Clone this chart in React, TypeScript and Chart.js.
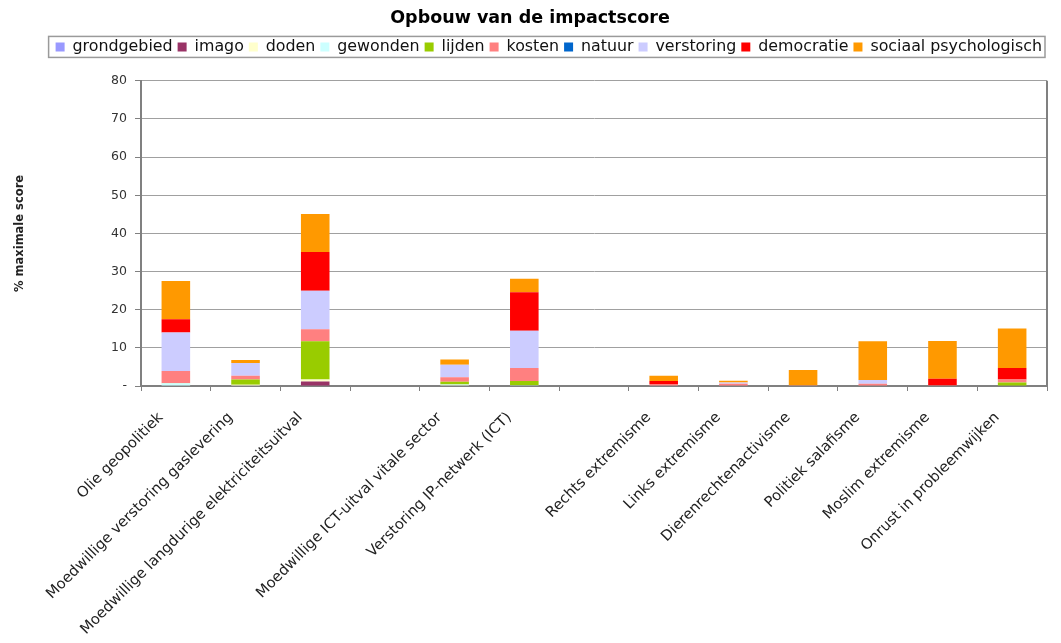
import React, { useEffect, useRef } from 'react';
import { Chart, registerables } from 'chart.js';

Chart.register(...registerables);

const categories = [
  'Olie geopolitiek',
  'Moedwillige verstoring gaslevering',
  'Moedwillige langdurige elektriciteitsuitval',
  '',
  'Moedwillige ICT-uitval vitale sector',
  'Verstoring IP-netwerk (ICT)',
  '',
  'Rechts extremisme',
  'Links extremisme',
  'Dierenrechtenactivisme',
  'Politiek salafisme',
  'Moslim extremisme',
  'Onrust in probleemwijken',
];

const grondgebied = [0, 0, 0, 0, 0, 0, 0, 0, 0, 0, 0, 0, 0];
const imago = [0, 0, 1.2, 0, 0, 0, 0, 0, 0, 0, 0, 0, 0];
const doden = [0, 0.3, 0.5, 0, 0.2, 0, 0, 0, 0, 0, 0, 0, 0];
const gewonden = [0.7, 0, 0, 0, 0.2, 0.2, 0, 0, 0, 0, 0, 0, 0];
const lijden = [0.1, 1.4, 10.0, 0, 0.7, 1.1, 0, 0, 0, 0, 0, 0, 0.9];
const kosten = [3.1, 1.0, 3.2, 0, 1.2, 3.4, 0, 0.5, 0.6, 0.2, 0.6, 0.2, 0.8];
const natuur = [0, 0, 0, 0, 0, 0, 0, 0, 0, 0, 0, 0, 0];
const verstoring = [10.1, 3.35, 10.1, 0, 3.3, 9.8, 0, 0, 0.3, 0, 1.0, 0, 0];
const democratie = [3.5, 0, 10.1, 0, 0, 10.1, 0, 0.8, 0, 0, 0, 1.7, 3.0];
const sociaalPsychologisch = [10.0, 0.75, 10.0, 0, 1.35, 3.5, 0, 1.4, 0.5, 4.0, 10.1, 9.9, 10.4];

const seriesNames = [
  'grondgebied', 'imago', 'doden', 'gewonden', 'lijden',
  'kosten', 'natuur', 'verstoring', 'democratie', 'sociaal psychologisch',
];
const seriesValues = [
  grondgebied, imago, doden, gewonden, lijden,
  kosten, natuur, verstoring, democratie, sociaalPsychologisch,
];
const seriesColors = [
  '#9999FF', '#993366', '#FFFFCC', '#CCFFFF', '#99CC00',
  '#FF8080', '#0066CC', '#CCCCFF', '#FF0000', '#FF9900',
];

const yMin = 0;
const yMax = 80;
const yStep = 10;

const FONT = '"DejaVu Sans", sans-serif';

const framePlugin = {
  id: 'frame',
  beforeLayout(chart: any) {
    const lg = chart.legend;
    if (lg && !lg.__patched) {
      const orig = lg.fit;
      lg.fit = function () {
        orig.call(this);
        this.height += 16;
      };
      lg.__patched = true;
    }
  },
  afterDraw(chart: any) {
    const { ctx, chartArea } = chart;
    ctx.save();
    ctx.strokeStyle = '#808080';
    ctx.lineWidth = 2;
    ctx.beginPath();
    ctx.moveTo(chartArea.right, chartArea.top);
    ctx.lineTo(chartArea.right, chartArea.bottom + 1);
    ctx.stroke();
    const boxes = chart.legend && chart.legend.legendHitBoxes;
    if (boxes && boxes.length) {
      const first = boxes[0];
      const last = boxes[boxes.length - 1];
      const l = first.left - 7;
      const r = last.left + last.width + 3;
      const cy = first.top + first.height / 2;
      ctx.strokeStyle = '#9a9a9a';
      ctx.lineWidth = 1.5;
      ctx.strokeRect(l, cy - 10.5, r - l, 21);
    }
    ctx.restore();
  },
};

export default function App() {
  const canvasRef = useRef<HTMLCanvasElement | null>(null);

  useEffect(() => {
    const canvas = canvasRef.current;
    if (!canvas) return;
    const chart = new Chart(canvas, {
      type: 'bar',
      data: {
        labels: categories,
        datasets: seriesNames.map((name, i) => ({
          label: name,
          data: seriesValues[i],
          backgroundColor: seriesColors[i],
          borderWidth: 0,
          categoryPercentage: 1,
          barPercentage: 0.41,
        })),
      },
      options: {
        responsive: false,
        animation: false,
        layout: { padding: { top: 8, left: 13, right: 14, bottom: 0 } },
        plugins: {
          title: {
            display: true,
            text: 'Opbouw van de impactscore',
            color: '#000',
            font: { family: FONT, size: 17.5, weight: 'bold' },
            padding: { top: 0, bottom: 5 },
          },
          legend: {
            position: 'top',
            align: 'end',
            labels: {
              boxWidth: 9,
              boxHeight: 9,
              padding: 5,
              color: '#111',
              font: { family: FONT, size: 15.85 },
            },
          },
          tooltip: { enabled: false },
        },
        scales: {
          x: {
            stacked: true,
            afterFit: (axis: any) => {
              axis.paddingLeft = 0;
              axis.paddingRight = 0;
              axis.height = 257;
            },
            ticks: {
              font: { family: FONT, size: 14.7 },
              color: '#222',
              minRotation: 45,
              maxRotation: 45,
              autoSkip: false,
              padding: 18,
              labelOffset: -15,
            },
            grid: {
              drawOnChartArea: false,
              drawTicks: true,
              tickLength: 5,
              color: '#808080',
              offset: true,
            },
            border: { color: '#808080', width: 2 },
          },
          y: {
            stacked: true,
            min: yMin,
            max: yMax,
            afterFit: (axis: any) => {
              axis.width = 128;
            },
            ticks: {
              stepSize: yStep,
              font: { family: FONT, size: 12.5 },
              color: '#333',
              padding: 8,
              callback: (v: any) => (Number(v) === 0 ? '-' : String(v)),
            },
            grid: {
              color: '#a0a0a0',
              lineWidth: 1,
              tickLength: 6,
              tickColor: '#808080',
              drawTicks: true,
            },
            border: { color: '#808080', width: 2 },
            title: {
              display: true,
              text: '% maximale score',
              color: '#222',
              font: { family: FONT, size: 11.5, weight: 'bold' },
              padding: { top: 0, bottom: 84 },
            },
          },
        },
      },
      plugins: [framePlugin],
    } as any);
    return () => chart.destroy();
  }, []);

  return (
    <div style={{ position: 'absolute', left: 0, top: 0, width: 1061, height: 643, background: '#fff' }}>
      <canvas ref={canvasRef} width={1061} height={643} style={{ display: 'block' }} />
    </div>
  );
}
